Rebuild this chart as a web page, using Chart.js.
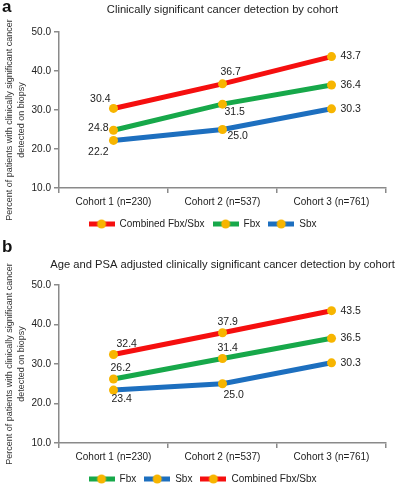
<!DOCTYPE html>
<html>
<head>
<meta charset="utf-8">
<script src="https://cdn.jsdelivr.net/npm/chart.js@4"></script>
<style>
  body { margin: 0; background: #fff; font-family: "Liberation Sans", Arial, sans-serif; overflow: hidden; }
  #wrap { position: relative; width: 396px; height: 484px; overflow: hidden; }
  canvas { position: absolute; left: 0; }
  #chartA { top: 0; }
  #chartB { top: 240px; }
  .panel { position: absolute; left: 2px; font-weight: bold; font-size: 17px; color: #111; line-height: 1; }
</style>
</head>
<body>
<div id="wrap">
  <canvas id="chartA" width="396" height="240"></canvas>
  <canvas id="chartB" width="396" height="254"></canvas>
  <div class="panel" style="top:-2px">a</div>
  <div class="panel" style="top:238px">b</div>
</div>
<script>
// data
const cohorts = ['Cohort 1 (n=230)', 'Cohort 2 (n=537)', 'Cohort 3 (n=761)'];
const yTicks = [10, 20, 30, 40, 50];

const titleA = 'Clinically significant cancer detection by cohort';
const combinedA = [30.4, 36.7, 43.7];
const fbxA = [24.8, 31.5, 36.4];
const sbxA = [22.2, 25.0, 30.3];

const titleB = 'Age and PSA adjusted clinically significant cancer detection by cohort';
const fbxB = [26.2, 31.4, 36.5];
const sbxB = [23.4, 25.0, 30.3];
const combinedB = [32.4, 37.9, 43.5];

const yTitle = ['Percent of patients with clinically significant cancer', 'detected on biopsy'];

// colours
const RED = '#f50f0f';
const GREEN = '#17a84a';
const BLUE = '#1d6fbf';
const DOT = '#f7b500';
const FONT = '"Liberation Sans", Arial, sans-serif';

// where each value label sits relative to its point: [dx, dy, align]
const posCombinedA = [[-3, -9, 'right'], [-2, -12, 'left'], [9, 0, 'left']];
const posFbxA = [[-5, -2, 'right'], [2, 8, 'left'], [9, 0, 'left']];
const posSbxA = [[-5, 12, 'right'], [5, 7, 'left'], [9, 0, 'left']];
const posFbxB = [[-3, -11, 'left'], [-5, -10, 'left'], [9, 0, 'left']];
const posSbxB = [[-2, 9, 'left'], [1, 11, 'left'], [9, 0, 'left']];
const posCombinedB = [[3, -10, 'left'], [-5, -11, 'left'], [9, 0, 'left']];

// small line+dot swatch for the legend
function swatch(color) {
  const c = document.createElement('canvas');
  c.width = 26; c.height = 10;
  const x = c.getContext('2d');
  x.strokeStyle = color;
  x.lineWidth = 5;
  x.beginPath(); x.moveTo(0, 5); x.lineTo(26, 5); x.stroke();
  x.fillStyle = DOT;
  x.beginPath(); x.arc(13, 5, 4.5, 0, Math.PI * 2); x.fill();
  return c;
}

function makeSet(label, values, color, pos) {
  return {
    label: label,
    data: values,
    borderColor: color,
    backgroundColor: color,
    borderWidth: 5,
    pointRadius: 4.5,
    pointHoverRadius: 4.5,
    pointBackgroundColor: DOT,
    pointBorderWidth: 0,
    tension: 0,
    labelPos: pos,
    legendImg: swatch(color)
  };
}

const valueLabels = {
  id: 'valueLabels',
  afterDatasetsDraw(chart) {
    const ctx = chart.ctx;
    ctx.save();
    ctx.font = '10.5px ' + FONT;
    ctx.fillStyle = '#222';
    ctx.textBaseline = 'middle';
    chart.data.datasets.forEach((ds, i) => {
      chart.getDatasetMeta(i).data.forEach((pt, j) => {
        const p = ds.labelPos[j];
        ctx.textAlign = p[2];
        ctx.fillText(ds.data[j].toFixed(1), pt.x + p[0], pt.y + p[1]);
      });
    });
    ctx.restore();
  }
};

// chart title over the plot area (not squeezed to its width) and the two-line y title
const panelText = {
  id: 'panelText',
  afterDraw(chart, args, opts) {
    const ctx = chart.ctx;
    const area = chart.chartArea;
    ctx.save();
    ctx.fillStyle = '#222';
    ctx.textAlign = 'center';
    ctx.textBaseline = 'middle';
    ctx.font = '11.2px ' + FONT;
    ctx.fillText(opts.title, (area.left + area.right) / 2, opts.titleY);

    ctx.fillStyle = '#333';
    ctx.font = '9px ' + FONT;
    ctx.translate(10, opts.yTitleMid);
    ctx.rotate(-Math.PI / 2);
    yTitle.forEach((line, k) => ctx.fillText(line, 0, k * 12));
    ctx.restore();
  }
};

function buildChart(id, title, datasets, pad) {
  return new Chart(document.getElementById(id).getContext('2d'), {
    type: 'line',
    data: { labels: cohorts, datasets: datasets },
    options: {
      responsive: false,
      animation: false,
      layout: { padding: { left: 19, right: 10, top: pad.top, bottom: pad.bottom } },
      plugins: {
        title: { display: false },
        panelText: { title: title, titleY: pad.titleY, yTitleMid: pad.yMid },
        legend: {
          position: 'bottom',
          labels: {
            usePointStyle: true,
            pointStyleWidth: 26,
            padding: 8,
            color: '#222',
            font: { size: 10, family: FONT },
            generateLabels(chart) {
              return chart.data.datasets.map((ds, i) => ({
                text: ds.label,
                pointStyle: ds.legendImg,
                fillStyle: ds.borderColor,
                strokeStyle: ds.borderColor,
                lineWidth: 0,
                fontColor: '#222',
                datasetIndex: i
              }));
            }
          }
        },
        tooltip: { enabled: false }
      },
      scales: {
        x: {
          offset: true,
          border: { color: '#8a8a8a', width: 1.5 },
          grid: { display: true, drawOnChartArea: false, offset: true, tickLength: 5, color: '#8a8a8a', lineWidth: 1.5 },
          ticks: { color: '#222', padding: 3, font: { size: 10, family: FONT }, maxRotation: 0 },
          afterFit(scale) { scale.height = 23; }
        },
        y: {
          min: yTicks[0],
          max: yTicks[yTicks.length - 1],
          afterBuildTicks(scale) { scale.ticks = yTicks.map(v => ({ value: v })); },
          border: { color: '#8a8a8a', width: 1.5 },
          grid: { display: true, drawOnChartArea: false, tickLength: 5, color: '#8a8a8a', lineWidth: 1.5 },
          ticks: {
            color: '#222',
            padding: 3,
            font: { size: 10, family: FONT },
            callback: v => Number(v).toFixed(1)
          },
          afterFit(scale) { scale.width = 40; }
        }
      }
    },
    plugins: [valueLabels, panelText]
  });
}

buildChart('chartA', titleA, [
  makeSet('Combined Fbx/Sbx', combinedA, RED, posCombinedA),
  makeSet('Fbx', fbxA, GREEN, posFbxA),
  makeSet('Sbx', sbxA, BLUE, posSbxA)
], { top: 32, bottom: 1, titleY: 10, yMid: 120 });

buildChart('chartB', titleB, [
  makeSet('Fbx', fbxB, GREEN, posFbxB),
  makeSet('Sbx', sbxB, BLUE, posSbxB),
  makeSet('Combined Fbx/Sbx', combinedB, RED, posCombinedB)
], { top: 45, bottom: 0, titleY: 25, yMid: 124 });
</script>
</body>
</html>
